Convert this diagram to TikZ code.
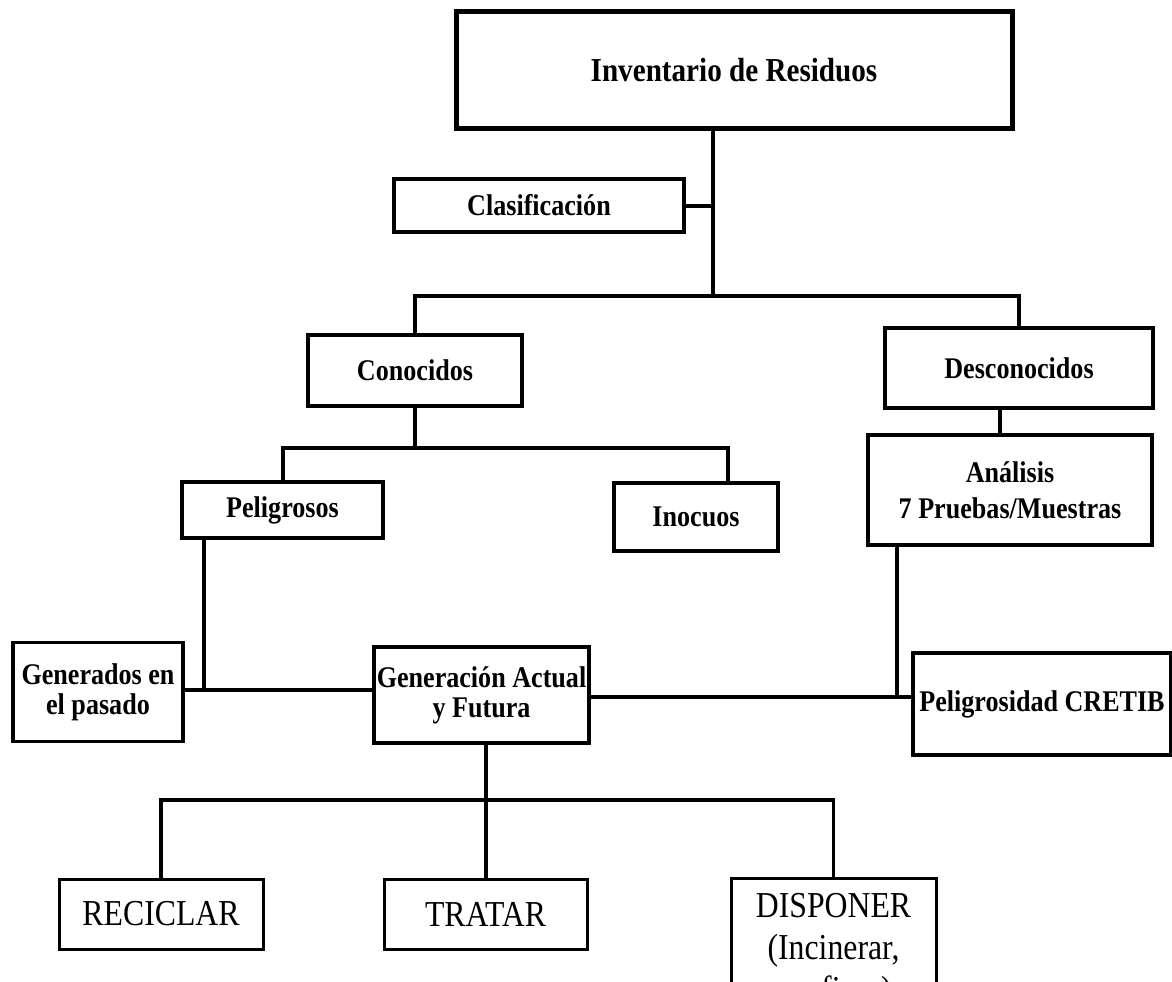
\documentclass[tikz,border=0pt]{standalone}
\usepackage{fontspec}
\setmainfont{Liberation Serif}[FakeStretch=0.87]
\begin{document}
\begin{tikzpicture}[x=1pt,y=-1pt,
  box/.style={draw,line width=3.5pt,rectangle,inner sep=0pt,align=center,
    font=\bfseries\fontsize{30}{30}\selectfont},
  lowbox/.style={draw,line width=3pt,rectangle,inner sep=0pt,align=center,
    font=\fontsize{36.5}{42}\selectfont},
  conn/.style={line width=4pt},
  lowconn/.style={line width=3.5pt}]
\useasboundingbox (0,0) rectangle (1172,982);
\clip (0,0) rectangle (1172,982);
% nodes
\node[box,line width=5pt,minimum width=556pt,minimum height=116pt,
  font=\bfseries\fontsize{33.5}{36}\selectfont] (inv) at (734,70) {Inventario de Residuos};
\node[box,minimum width=290pt,minimum height=53pt] (clas) at (539,205.5) {Clasificación};
\node[box,minimum width=214pt,minimum height=71pt] (con) at (415,370.5) {Conocidos};
\node[box,minimum width=268pt,minimum height=80pt] (des) at (1019,368) {Desconocidos};
\node[box,minimum width=201pt,minimum height=56pt] (pel) at (282.5,510) {Peligrosos};
\node[box,minimum width=164pt,minimum height=68pt] (ino) at (696,517) {Inocuos};
\node[box,minimum width=284pt,minimum height=110pt] (ana) at (1010,490) {Análisis\\[6pt]7 Pruebas/Muestras};
\node[box,minimum width=170pt,minimum height=99pt] (genp) at (98,692) {Generados en\\el pasado};
\node[box,minimum width=215pt,minimum height=96pt] (gena) at (481.5,695) {Generación Actual\\y Futura};
\node[box,minimum width=258pt,minimum height=102pt] (pelc) at (1042,704) {Peligrosidad CRETIB};
\node[lowbox,minimum width=204pt,minimum height=70pt] (rec) at (161,914) {RECICLAR};
\node[lowbox,minimum width=203pt,minimum height=70pt] (tra) at (485.5,914) {TRATAR};
\node[lowbox,minimum width=205pt,minimum height=146pt,anchor=north] (dis) at (833.5,877) {DISPONER\\(Incinerar,\\confinar)};
% junctions
\coordinate (j1) at (713,296);
\coordinate (j2) at (415,448);
\coordinate (j3) at (728,448);
\coordinate (j4) at (1000,420);
\coordinate (j5) at (204,690);
\coordinate (j6) at (897,697);
\coordinate (j7) at (486,800);
% connectors
\draw[conn] (inv.south -| j1) -- (j1);
\draw[conn] (clas.east) -- (clas.east -| j1);
\draw[conn] (con.north) |- (j1) -| (des.north);
\draw[conn] (con.south) -- (j2);
\draw[conn] (pel.north) |- (j3) -- (j3 |- ino.north);
\draw[conn] (des.south -| j4) -- (ana.north -| j4);
\draw[conn] (pel.south -| j5) -- (j5);
\draw[conn] (genp.east |- j5) -- (gena.west |- j5);
\draw[conn] (ana.south -| j6) -- (j6);
\draw[conn] (gena.east |- j6) -- (pelc.west |- j6);
\draw[lowconn] (gena.south -| j7) -- (tra.north -| j7);
\draw[lowconn] (rec.north) |- (j7) -| (dis.north);
\end{tikzpicture}
\end{document}
